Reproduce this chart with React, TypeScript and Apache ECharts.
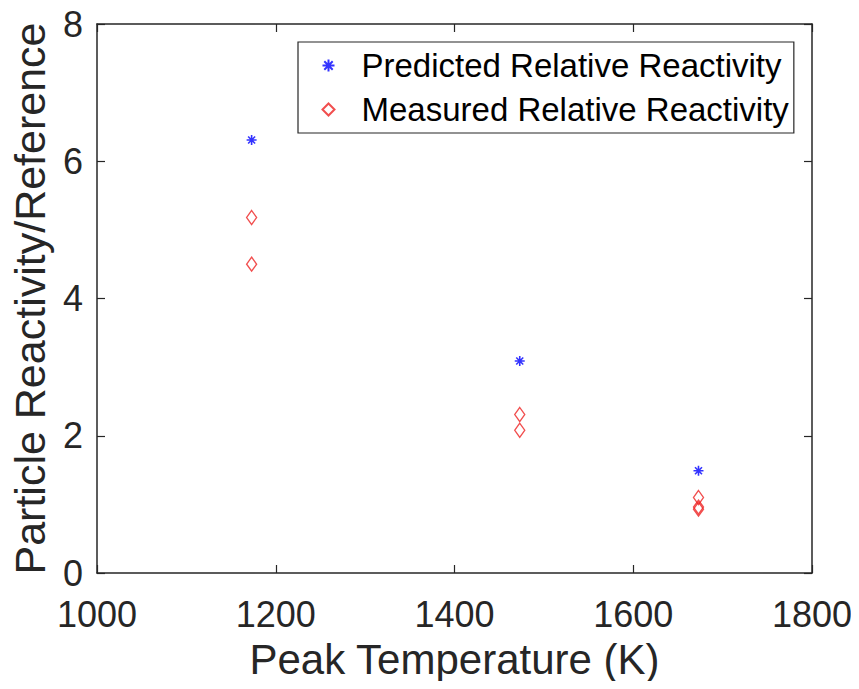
import React, { useEffect, useRef } from "react";
import * as echarts from "echarts";

const xTicks = [1000, 1200, 1400, 1600, 1800];
const yTicks = [0, 2, 4, 6, 8];
const predictedX = [1173, 1473, 1673];
const predictedY = [6.31, 3.09, 1.49];
const measuredX = [1173, 1173, 1473, 1473, 1673, 1673, 1673];
const measuredY = [5.18, 4.5, 2.31, 2.08, 1.1, 0.96, 0.93];
const seriesNames = ["Predicted Relative Reactivity", "Measured Relative Reactivity"];
const xLabel = "Peak Temperature (K)";
const yLabel = "Particle Reactivity/Reference";

const FONT = "'Liberation Sans', Arial, Helvetica, sans-serif";
const AX = "#262626";
const ASTERISK =
  "path://M5,0 L5,10 M0,5 L10,5 M1.5,1.5 L8.5,8.5 M8.5,1.5 L1.5,8.5";

export default function App() {
  const ref = useRef<HTMLDivElement>(null);
  useEffect(() => {
    if (!ref.current) return;
    const chart = echarts.init(ref.current, null, { renderer: "svg" });
    const axisCommon = {
      axisLine: { show: true, onZero: false, lineStyle: { color: AX, width: 1.5 } },
      axisTick: { show: true, inside: true, length: 8, lineStyle: { color: AX, width: 1.2 } },
      splitLine: { show: false },
    };
    const fmt = (v: number) => String(v);
    chart.setOption({
      animation: false,
      backgroundColor: "#fff",
      textStyle: { fontFamily: FONT },
      grid: { left: 94, top: 24, right: 47, bottom: 116, containLabel: false },
      legend: {
        orient: "vertical",
        left: 298,
        top: 42,
        data: seriesNames,
        borderColor: AX,
        borderWidth: 1.2,
        padding: [7, 5, 7, 22],
        itemGap: 11,
        itemWidth: 12,
        itemHeight: 12,
        textStyle: { fontSize: 33, color: "#000", fontFamily: FONT, padding: [0, 0, 0, 22] },
      },
      xAxis: [
        {
          type: "value",
          min: xTicks[0],
          max: xTicks[xTicks.length - 1],
          interval: 200,
          position: "bottom",
          name: xLabel,
          nameLocation: "middle",
          nameGap: 65,
          nameTextStyle: { fontSize: 42, color: AX, fontFamily: FONT },
          axisLabel: { fontSize: 36, color: AX, margin: 23, fontFamily: FONT, formatter: fmt },
          ...axisCommon,
        },
        {
          type: "value",
          min: xTicks[0],
          max: xTicks[xTicks.length - 1],
          interval: 200,
          position: "top",
          axisLabel: { show: false },
          ...axisCommon,
        },
      ],
      yAxis: [
        {
          type: "value",
          min: yTicks[0],
          max: yTicks[yTicks.length - 1],
          interval: 2,
          position: "left",
          name: yLabel,
          nameLocation: "middle",
          nameGap: 46,
          nameTextStyle: { fontSize: 43, color: AX, fontFamily: FONT },
          axisLabel: { fontSize: 36, color: AX, margin: 14, fontFamily: FONT, formatter: fmt },
          ...axisCommon,
        },
        {
          type: "value",
          min: yTicks[0],
          max: yTicks[yTicks.length - 1],
          interval: 2,
          position: "right",
          axisLabel: { show: false },
          ...axisCommon,
        },
      ],
      series: [
        {
          name: seriesNames[0],
          type: "scatter",
          symbol: ASTERISK,
          symbolSize: 10,
          itemStyle: { color: "none", borderColor: "#0000ff", borderWidth: 1.6 },
          data: predictedX.map((x, i) => [x, predictedY[i]]),
        },
        {
          name: seriesNames[1],
          type: "scatter",
          symbol: "diamond",
          symbolSize: [10, 14],
          itemStyle: { color: "none", borderColor: "#ee2222", borderWidth: 1.4 },
          data: measuredX.map((x, i) => [x, measuredY[i]]),
        },
      ],
    });
    return () => chart.dispose();
  }, []);
  return <div ref={ref} style={{ width: 859, height: 689, margin: -8 }} />;
}
